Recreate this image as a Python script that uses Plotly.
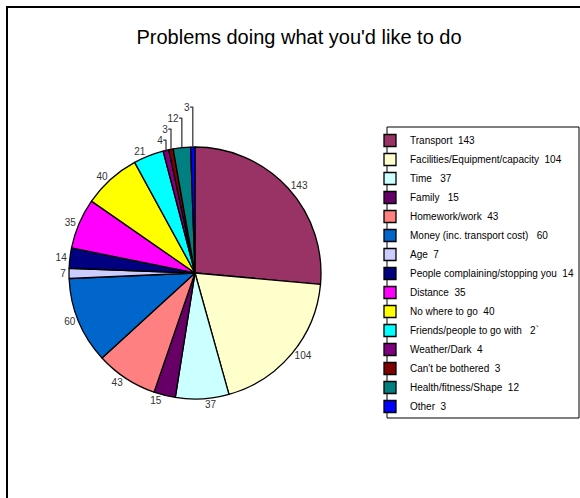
import plotly.graph_objects as go

# Reasons given, in clockwise order starting at 12 o'clock
categories = [
    "Transport", "Facilities/Equipment/capacity", "Time", "Family",
    "Homework/work", "Money (inc. transport cost)", "Age",
    "People complaining/stopping you", "Distance", "No where to go",
    "Friends/people to go with", "Weather/Dark", "Can't be bothered",
    "Health/fitness/Shape", "Other",
]
counts = [143, 104, 37, 15, 43, 60, 7, 14, 35, 40, 21, 4, 3, 12, 3]
legend_labels = [
    "Transport  143", "Facilities/Equipment/capacity  104", "Time   37",
    "Family   15", "Homework/work  43", "Money (inc. transport cost)   60",
    "Age  7", "People complaining/stopping you  14", "Distance  35",
    "No where to go  40", "Friends/people to go with   2`", "Weather/Dark  4",
    "Can't be bothered  3", "Health/fitness/Shape  12", "Other  3",
]
colors = [
    "#993366", "#FFFFCC", "#CCFFFF", "#660066", "#FF8080", "#0066CC",
    "#CCCCFF", "#000080", "#FF00FF", "#FFFF00", "#00FFFF", "#800080",
    "#800000", "#008080", "#0000FF",
]

W, H = 580, 498
FONT = "Liberation Sans, Arial, sans-serif"

# pie box in pixels: centre (195, 273), radius 126
cx, cy, r = 195, 273, 126

fig = go.Figure(
    go.Pie(
        labels=legend_labels,
        values=counts,
        customdata=categories,
        sort=False,
        direction="clockwise",
        rotation=0,
        marker=dict(colors=colors, line=dict(color="black", width=1.3)),
        texttemplate="%{value}",
        textposition="outside",
        textfont=dict(family=FONT, size=10, color="#333333"),
        domain=dict(x=[(cx - r) / W, (cx + r) / W],
                    y=[1 - (cy + r) / H, 1 - (cy - r) / H]),
        hoverinfo="label+value",
    )
)

fig.update_layout(
    width=W,
    height=H,
    margin=dict(l=0, r=0, t=0, b=0),
    paper_bgcolor="white",
    plot_bgcolor="white",
    font=dict(family=FONT, color="black"),
    title=dict(
        text="Problems doing what you'd like to do",
        x=299 / W, xanchor="center",
        y=1 - 37 / H, yanchor="middle",
        font=dict(family=FONT, size=20, color="black"),
    ),
    legend=dict(
        x=370 / W, xanchor="left",
        y=1 - 126 / H, yanchor="top",
        font=dict(family=FONT, size=10, color="black"),
        bgcolor="rgba(0,0,0,0)",
        borderwidth=0,
        itemwidth=30,
    ),
    shapes=[
        # outer chart frame (continues past the right and bottom edges)
        dict(type="rect", xref="paper", yref="paper",
             x0=7 / W, x1=1.05, y0=-0.05, y1=1 - 7 / H,
             line=dict(color="black", width=2)),
        # legend frame
        dict(type="rect", xref="paper", yref="paper",
             x0=387 / W, x1=579 / W, y0=1 - 418 / H, y1=1 - 127 / H,
             line=dict(color="black", width=1)),
    ],
)

fig.write_html("out.html")
